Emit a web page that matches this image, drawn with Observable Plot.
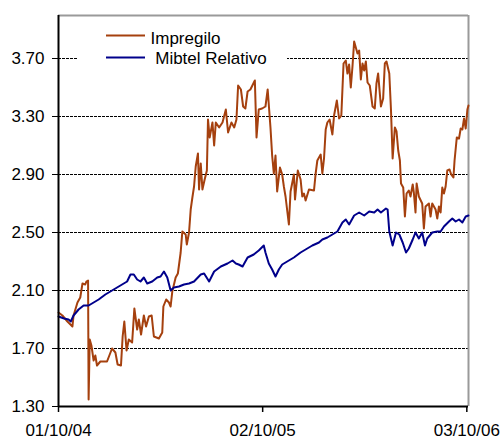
<!DOCTYPE html>
<html><head><meta charset="utf-8">
<script src="https://cdn.jsdelivr.net/npm/d3@7"></script>
<script src="https://cdn.jsdelivr.net/npm/@observablehq/plot@0.6"></script>
<style>
body{margin:0;background:#fff;font-family:"Liberation Sans",Arial,sans-serif}
#wrap{position:relative;width:503px;height:440px}
#legend{position:absolute;left:78px;top:24px;width:209px;height:44px;background:#fff}
</style></head><body><div id="wrap"></div>
<script>
// ---- data ----
const seriesNames = ["Impregilo", "Mibtel Relativo"];
const seriesColors = ["#A5400E", "#00008B"];
const tickDates = ["2004-10-01", "2005-10-02", "2006-10-03"];
const yTicks = [1.3, 1.7, 2.1, 2.5, 2.9, 3.3, 3.7];
const gridVals = [1.7, 2.1, 2.5, 2.9, 3.3, 3.7];
// days since 01/10/2004
const impDays = [0,7,16,25,27,34,39,43,48,50,53,54,56,59,63,66,69,75,87,96,102,106,112,115,118,122,126,132,136,141,144,148,153,157,162,167,171,180,186,188,193,198,201,204,210,214,219,222,228,230,234,237,240,243,246,250,252,255,258,262,266,268,271,276,279,282,288,294,300,304,310,315,319,322,327,331,335,339,344,352,355,359,365,371,375,380,383,386,389,392,397,401,404,407,413,416,422,424,429,434,437,440,443,449,458,461,464,470,473,476,479,482,486,491,494,499,503,507,511,515,518,521,524,527,530,536,539,542,545,548,551,554,558,563,567,570,573,578,582,585,588,593,596,599,603,606,609,612,614,618,621,624,628,631,635,637,640,642,646,652,655,658,664,667,670,676,679,682,685,688,691,694,697,701,704,708,710,714,718,721,724,727,730,733,735];
const impVals = [1.95,1.93,1.89,1.85,1.93,2.015,2.05,2.15,2.14,2.16,2.17,1.35,1.76,1.72,1.62,1.65,1.58,1.61,1.61,1.70,1.67,1.59,1.58,1.785,1.89,1.69,1.76,1.74,1.98,1.83,1.90,1.80,1.93,1.85,1.92,1.93,1.78,1.77,1.81,1.99,2.04,2.015,1.99,2.095,2.19,2.22,2.36,2.51,2.49,2.42,2.50,2.66,2.74,2.82,2.96,3.05,2.80,2.98,2.80,2.87,2.93,3.28,3.16,3.26,3.10,3.26,3.23,3.26,3.35,3.19,3.26,3.23,3.28,3.52,3.49,3.37,3.36,3.475,3.49,3.55,3.16,3.35,3.36,3.37,3.49,3.23,3.03,2.91,3.03,2.785,2.95,2.90,2.82,2.75,2.555,2.785,2.90,2.73,2.93,2.87,2.75,2.77,2.72,2.80,2.79,2.91,3.00,3.04,2.91,3.015,3.21,3.26,3.28,3.18,3.31,3.41,3.29,3.31,3.67,3.69,3.60,3.66,3.50,3.65,3.82,3.74,3.76,3.555,3.67,3.62,3.68,3.54,3.52,3.37,3.36,3.53,3.60,3.37,3.43,3.67,3.68,3.60,3.35,3.015,3.23,3.20,3.07,3.00,2.84,2.81,2.61,2.77,2.79,2.75,2.83,2.78,2.64,2.84,2.75,2.70,2.53,2.68,2.70,2.61,2.70,2.66,2.60,2.68,2.64,2.81,2.77,2.82,2.93,2.94,2.90,2.88,3.00,3.16,3.15,3.22,3.21,3.29,3.22,3.35,3.38];
const mibDays = [0,10,18,22,27,36,45,54,63,72,84,96,105,114,123,129,135,141,147,153,159,168,177,183,189,195,201,207,216,225,234,243,255,261,270,279,291,303,312,318,323,330,339,350,359,368,371,377,383,389,395,401,410,422,434,446,455,467,473,482,491,500,509,515,521,530,539,548,557,566,572,578,587,590,593,599,605,611,617,623,628,635,640,646,652,657,661,670,679,685,691,700,706,712,718,724,730,735];
const mibVals = [1.92,1.91,1.90,1.89,1.93,1.97,1.995,2.00,2.015,2.04,2.07,2.10,2.12,2.14,2.16,2.21,2.21,2.175,2.165,2.19,2.15,2.16,2.19,2.20,2.23,2.19,2.10,2.125,2.13,2.14,2.15,2.16,2.21,2.22,2.16,2.23,2.27,2.29,2.31,2.29,2.28,2.27,2.33,2.35,2.38,2.41,2.36,2.29,2.245,2.20,2.245,2.28,2.30,2.33,2.36,2.39,2.41,2.43,2.45,2.47,2.49,2.51,2.57,2.59,2.555,2.62,2.64,2.62,2.65,2.64,2.66,2.64,2.67,2.66,2.51,2.41,2.50,2.49,2.43,2.36,2.39,2.45,2.50,2.46,2.50,2.41,2.46,2.50,2.51,2.51,2.545,2.58,2.60,2.58,2.59,2.57,2.61,2.62];

// ---- build ----
const toDate = d => new Date(Date.UTC(2004, 9, 1 + d));
const parse = d3.utcParse("%Y-%m-%d");
const imp = impDays.map((d, i) => ({date: toDate(d), value: impVals[i]}));
const mib = mibDays.map((d, i) => ({date: toDate(d), value: mibVals[i]}));
const xStart = toDate(0), xEnd = toDate(735);

const chart = Plot.plot({
  width: 503, height: 440,
  marginLeft: 58, marginRight: 35, marginTop: 15, marginBottom: 34,
  style: {fontFamily: "'Liberation Sans', Arial, sans-serif", background: "white", overflow: "visible", color: "#000"},
  x: {type: "utc", domain: [xStart, xEnd]},
  y: {domain: [1.3, 4.0], round: true},
  marks: [
    Plot.ruleY(gridVals, {stroke: "#000", strokeWidth: 1, strokeDasharray: "3,1"}),
    Plot.ruleY([4.0], {stroke: "#9a9a9a", strokeWidth: 2}),
    Plot.ruleX([xEnd], {stroke: "#9a9a9a", strokeWidth: 2}),
    Plot.lineY(imp, {x: "date", y: "value", stroke: seriesColors[0], strokeWidth: 2}),
    Plot.lineY(mib, {x: "date", y: "value", stroke: seriesColors[1], strokeWidth: 2}),
    Plot.ruleX([xStart], {stroke: "#000", strokeWidth: 2}),
    Plot.ruleY([1.3], {stroke: "#000", strokeWidth: 2}),
    Plot.axisY(yTicks, {tickFormat: d3.format(".2f"), tickSize: 6, tickPadding: 8, fontSize: 17, label: null}),
    Plot.axisX(tickDates.map(parse), {tickFormat: d3.utcFormat("%d/%m/%y"), tickSize: 6, tickPadding: 11, fontSize: 17, label: null, strokeWidth: 1.5})
  ]
});
const wrap = document.getElementById("wrap");
wrap.appendChild(chart);

// legend overlay (white box over the plot)
const leg = document.createElement("div");
leg.id = "legend";
leg.innerHTML = `<svg width="209" height="44" style="font-family:'Liberation Sans',Arial,sans-serif;font-size:17px">
  <line x1="28" x2="67" y1="11.5" y2="11.5" stroke="${seriesColors[0]}" stroke-width="2"/>
  <text x="72.5" y="20" fill="#000">${seriesNames[0]}</text>
  <line x1="28" x2="67" y1="33.5" y2="33.5" stroke="${seriesColors[1]}" stroke-width="2"/>
  <text x="72.5" y="40" fill="#000" xml:space="preserve"> ${seriesNames[1]}</text>
</svg>`;
wrap.appendChild(leg);
</script>
</body></html>
